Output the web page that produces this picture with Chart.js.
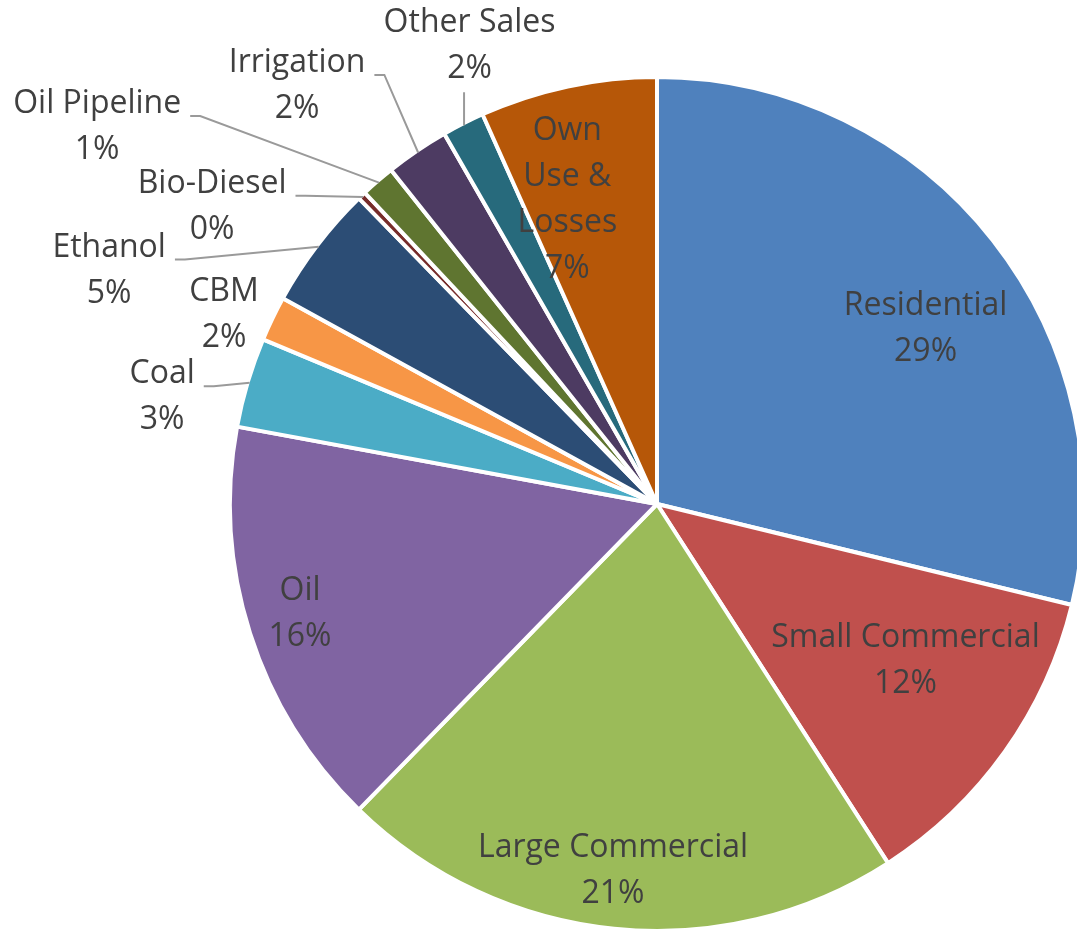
<!DOCTYPE html>
<html>
<head>
<meta charset="utf-8">
<script src="https://cdn.jsdelivr.net/npm/chart.js@4"></script>
<style>
  html, body { margin: 0; padding: 0; background: #fff; overflow: hidden; }
  #wrap { position: relative; width: 1100px; height: 933px; }
</style>
</head>
<body>
<div id="wrap"><canvas id="pieChart"></canvas></div>
<script>
// ─── Data ───────────────────────────────────────────────────────────────────
const categories = ['Residential', 'Small Commercial', 'Large Commercial', 'Oil', 'Coal', 'CBM',
                    'Ethanol', 'Bio-Diesel', 'Oil Pipeline', 'Irrigation', 'Other Sales', 'Own Use & Losses'];
const shares     = [28.8, 12.1, 21.4, 15.6, 3.4, 1.7, 4.7, 0.3, 1.3, 2.4, 1.6, 6.7];
const colors     = ['#4F81BD', '#C0504D', '#9BBB59', '#8064A2', '#4BACC6', '#F79646',
                    '#2C4D75', '#772C2A', '#5F7530', '#4D3B62', '#276A7C', '#B65708'];

// ─── Label layout (block centre, in units of the pie radius from its centre) ─
const labelSpots = [
  { dx:  0.629, dy: -0.411 },
  { dx:  0.582, dy:  0.367 },
  { dx: -0.103, dy:  0.860 },
  { dx: -0.836, dy:  0.257 },
  { dx: -1.159, dy: -0.250, leader: 'side' },
  { dx: -1.014, dy: -0.442 },
  { dx: -1.283, dy: -0.547, leader: 'side' },
  { dx: -1.042, dy: -0.696, leader: 'side' },
  { dx: -1.311, dy: -0.883, leader: 'side' },
  { dx: -0.843, dy: -0.979, leader: 'side' },
  { dx: -0.439, dy: -1.072, leader: 'below' },
  { dx: -0.210, dy: -0.713, lines: ['Own', 'Use &', 'Losses'] }
];

const FONT = '32px "Open Sans"';
const LINE_GAP = 46;

// ─── Plugin: Excel-style data labels with leader lines ─────────────────────
const sliceLabels = {
  id: 'sliceLabels',
  afterDatasetsDraw(chart) {
    const ctx = chart.ctx;
    const arcs = chart.getDatasetMeta(0).data;
    const total = shares.reduce((a, b) => a + b, 0);

    ctx.save();
    ctx.font = FONT;
    ctx.textAlign = 'center';
    ctx.textBaseline = 'middle';

    arcs.forEach((arc, i) => {
      const spot = labelSpots[i];
      const r = arc.outerRadius;
      const cx = arc.x + spot.dx * r;
      const cy = arc.y + spot.dy * r;
      const lines = (spot.lines || [categories[i]]).concat(Math.round(shares[i] / total * 100) + '%');
      const top = cy - (lines.length - 1) * LINE_GAP / 2;

      // leader line towards the middle of the slice edge
      if (spot.leader) {
        const mid = (arc.startAngle + arc.endAngle) / 2;
        const ex = arc.x + Math.cos(mid) * (r - 2);
        const ey = arc.y + Math.sin(mid) * (r - 2);
        ctx.beginPath();
        ctx.strokeStyle = '#9A9A9A';
        ctx.lineWidth = 2;
        if (spot.leader === 'side') {
          const sx = cx + ctx.measureText(lines[0]).width / 2 + 9;
          const sy = top + 12;
          ctx.moveTo(sx, sy);
          ctx.lineTo(sx + 10, sy);
          ctx.lineTo(ex, ey);
        } else {
          const sy = top + LINE_GAP * (lines.length - 1) + 23;
          ctx.moveTo(ex, sy);
          ctx.lineTo(ex, ey);
        }
        ctx.stroke();
      }

      ctx.fillStyle = '#404040';
      lines.forEach((txt, k) => ctx.fillText(txt, cx, top + k * LINE_GAP));
    });
    ctx.restore();
  }
};

// ─── Chart ──────────────────────────────────────────────────────────────────
const ctx = document.getElementById('pieChart').getContext('2d');
const pieChart = new Chart(ctx, {
  type: 'pie',
  data: {
    labels: categories,
    datasets: [{
      data: shares,
      backgroundColor: colors,
      borderColor: '#FFFFFF',
      borderWidth: 4
    }]
  },
  options: {
    responsive: true,
    maintainAspectRatio: false,
    animation: false,
    layout: { padding: { left: 227, right: 13, top: 75, bottom: 0 } },
    plugins: {
      legend: { display: false },
      tooltip: { enabled: false }
    }
  },
  plugins: [sliceLabels]
});
</script>
</body>
</html>
